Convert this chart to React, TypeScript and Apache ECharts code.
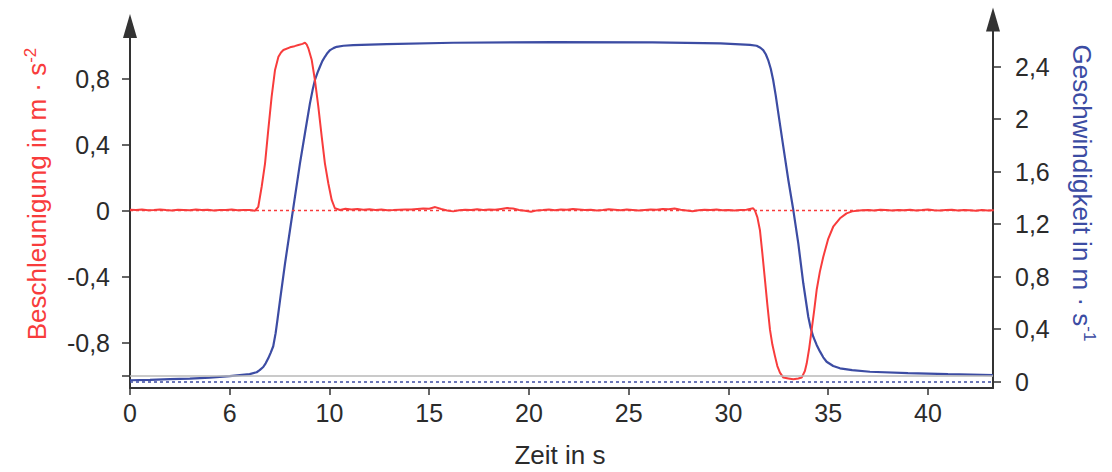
import React, { useEffect, useRef } from 'react';
import * as echarts from 'echarts';

// ---------- axis ranges & ticks ----------
const X_MIN = 0;
const X_MAX = 43.26;
const xTicks = [0, 5, 10, 15, 20, 25, 30, 35, 40];
const xTickLabels = ['0', '6', '10', '15', '20', '25', '30', '35', '40'];

const ACC_MIN = -1.073;
const ACC_MAX = 1.118;
const accTicks = [-1.0, -0.8, -0.4, 0, 0.4, 0.8];
const accLabels = [-0.8, -0.4, 0, 0.4, 0.8];

const VEL_MIN = -0.048;
const VEL_MAX = 2.76;
const velTicks = [0, 0.4, 0.8, 1.2, 1.6, 2, 2.4];

// ---------- acceleration (red) ----------
const SAMPLE_STEP = 0.3;
const accBase1Start = 0;
const accBase1 = [0.006, 0.004, 0.007, 0.003, 0.005, 0.008, 0.004, 0.002, 0.006, 0.005, 0.003,
  0.007, 0.004, 0.006, 0.002, 0.005, 0.004, 0.007, 0.003, 0.005, 0.004];
const accPulse1: [number, number][] = [
  [6.27, 0.0], [6.43, 0.024], [6.6, 0.145], [6.77, 0.287], [6.93, 0.488], [7.1, 0.69],
  [7.27, 0.852], [7.44, 0.932], [7.57, 0.958], [7.69, 0.973], [8.02, 0.989], [8.25, 0.996], [8.44, 1.003],
  [8.65, 1.01], [8.77, 1.017], [8.86, 1.005], [8.94, 0.983], [9.11, 0.912], [9.27, 0.791], [9.44, 0.63],
  [9.61, 0.448], [9.77, 0.287], [9.94, 0.166], [10.11, 0.065], [10.27, 0.015], [10.53, 0.004],
];
const accBase2Start = 10.8;
const accBase2 = [0.012, 0.008, 0.010, 0.006, 0.009, 0.005, 0.007, 0.003, 0.004, 0.006,
  0.008, 0.007, 0.011, 0.013, 0.012, 0.022, 0.010, 0.001, -0.004, 0.003,
  0.006, 0.004, 0.009, 0.005, 0.008, 0.006, 0.011, 0.016, 0.013, 0.004,
  0.000, -0.006, 0.002, 0.004, 0.007, 0.003, 0.008, 0.006, 0.010, 0.007,
  0.004, 0.006, 0.002, 0.005, 0.009, 0.006, 0.003, 0.007, 0.004, 0.001,
  0.005, 0.008, 0.006, 0.011, 0.009, 0.013, 0.006, 0.002, -0.003, 0.003,
  0.006, 0.004, 0.007, 0.003, 0.005, 0.002, 0.004, 0.006];
const accPulse2: [number, number][] = [
  [31.24, 0.015], [31.33, 0.0], [31.45, -0.04], [31.58, -0.12], [31.7, -0.26], [31.83, -0.42],
  [31.95, -0.57], [32.08, -0.72], [32.2, -0.81], [32.33, -0.88], [32.45, -0.94], [32.58, -0.98],
  [32.75, -1.01], [33.0, -1.015], [33.25, -1.02], [33.5, -1.015], [33.67, -1.01], [33.83, -0.97],
  [33.92, -0.925], [34.05, -0.83], [34.17, -0.72], [34.3, -0.6], [34.42, -0.48], [34.58, -0.37],
  [34.75, -0.28], [35.0, -0.17], [35.25, -0.097], [35.59, -0.046], [35.92, -0.016], [36.2, -0.004],
  [36.43, 0.0],
];
const accBase3Start = 36.7;
const accBase3 = [0.003, 0.005, 0.002, 0.006, 0.004, 0.001, 0.005, 0.003, 0.006, 0.002, 0.004,
  0.007, 0.003, 0.001, 0.004, 0.006, 0.002, 0.005, 0.003, 0.000, 0.004, 0.002, 0.003];

// ---------- velocity (blue) ----------
const velocity: [number, number][] = [
  [0, 0.011], [1, 0.014], [2, 0.019], [3, 0.024], [4, 0.031], [5, 0.042], [5.5, 0.05],
  [6.0, 0.058], [6.35, 0.072], [6.5, 0.088], [6.68, 0.112], [6.8, 0.14], [6.93, 0.178],
  [7.05, 0.22], [7.18, 0.27], [7.3, 0.37], [7.4, 0.48], [7.52, 0.62], [7.77, 0.9],
  [8.02, 1.156], [8.27, 1.41], [8.52, 1.664], [8.77, 1.893], [9.02, 2.121], [9.15, 2.22],
  [9.27, 2.299], [9.4, 2.355], [9.52, 2.4], [9.64, 2.443], [9.77, 2.476], [9.9, 2.505],
  [10.03, 2.527], [10.2, 2.542], [10.36, 2.552], [10.7, 2.56], [11.19, 2.565], [12.87, 2.572],
  [16.2, 2.583], [21.2, 2.588], [26.2, 2.586], [29.6, 2.578], [31.08, 2.566], [31.41, 2.56],
  [31.6, 2.545], [31.74, 2.527], [31.87, 2.495], [31.99, 2.451], [32.12, 2.385], [32.24, 2.299],
  [32.37, 2.18], [32.5, 2.045], [32.75, 1.79], [33.0, 1.537], [33.25, 1.308], [33.5, 1.054],
  [33.75, 0.75], [34.0, 0.495], [34.12, 0.41], [34.25, 0.343], [34.42, 0.28], [34.59, 0.229],
  [34.75, 0.186], [34.92, 0.152], [35.25, 0.12], [35.59, 0.102], [36.2, 0.088], [37.09, 0.076],
  [39, 0.066], [41, 0.058], [43.26, 0.05],
];

const withTimes = (start: number, vals: number[]): [number, number][] =>
  vals.map((v, i) => [Math.round((start + i * SAMPLE_STEP) * 100) / 100, v]);

const acceleration: [number, number][] = [
  ...withTimes(accBase1Start, accBase1),
  ...accPulse1,
  ...withTimes(accBase2Start, accBase2),
  ...accPulse2,
  ...withTimes(accBase3Start, accBase3),
];

const FONT = '"Liberation Sans", Arial, Helvetica, sans-serif';
const AXIS = '#333333';
const TXT = '#2b2b2b';
const RED = '#f83c3c';
const BLUE = '#3c4ca3';

const commaFmt = (v: number) =>
  Math.abs(v) < 1e-9 ? '0' : (Math.round(v * 10) / 10).toString().replace('.', ',');

export default function App() {
  const ref = useRef<HTMLDivElement>(null);

  useEffect(() => {
    if (!ref.current) return;
    const chart = echarts.init(ref.current, undefined, { renderer: 'svg' });
    const axisLineY = {
      show: true,
      onZero: false,
      symbol: ['none', 'triangle'],
      symbolSize: [14, 24],
      lineStyle: { color: AXIS, width: 2 },
    };
    const option: any = {
      animation: false,
      textStyle: { fontFamily: FONT },
      grid: [
        { left: 130, right: 119, top: 26, bottom: 84, containLabel: false, outerBoundsMode: 'none' },
        { left: 130, right: 119, top: 19.5, bottom: 84, containLabel: false, outerBoundsMode: 'none' },
      ],
      xAxis: [
        {
          type: 'value', gridIndex: 0, min: X_MIN, max: X_MAX,
          axisLine: { show: true, onZero: false, lineStyle: { color: AXIS, width: 2 } },
          axisTick: { show: true, length: 7, customValues: xTicks, lineStyle: { color: AXIS, width: 1.5 } },
          axisLabel: {
            customValues: xTicks,
            formatter: (v: number) => {
              const i = xTicks.findIndex((t) => Math.abs(t - v) < 1e-6);
              return i >= 0 ? xTickLabels[i] : '';
            },
            fontSize: 25, color: TXT, margin: 12, fontFamily: FONT,
          },
          splitLine: { show: false },
        },
        { type: 'value', gridIndex: 1, min: X_MIN, max: X_MAX, show: false, splitLine: { show: false } },
      ],
      yAxis: [
        {
          type: 'value', gridIndex: 0, position: 'left', min: ACC_MIN, max: ACC_MAX,
          axisLine: axisLineY,
          axisTick: { show: true, length: 8, customValues: accTicks, lineStyle: { color: AXIS, width: 1.5 } },
          axisLabel: { customValues: accLabels, formatter: commaFmt, fontSize: 25, color: TXT, margin: 20, fontFamily: FONT, padding: [5, 0, 0, 0] },
          splitLine: { show: false },
        },
        {
          type: 'value', gridIndex: 1, position: 'right', min: VEL_MIN, max: VEL_MAX,
          axisLine: axisLineY,
          axisTick: { show: true, length: 8, customValues: velTicks, lineStyle: { color: AXIS, width: 1.5 } },
          axisLabel: { customValues: velTicks, formatter: commaFmt, fontSize: 25, color: TXT, margin: 22, fontFamily: FONT },
          splitLine: { show: false },
        },
      ],
      series: [
        {
          type: 'line', name: 'Geschwindigkeit', xAxisIndex: 1, yAxisIndex: 1,
          data: velocity, showSymbol: false, smooth: false,
          lineStyle: { color: BLUE, width: 2.2 }, z: 3,
          markLine: {
            silent: true, symbol: ['none', 'none'], label: { show: false },
            data: [{ yAxis: 0, lineStyle: { type: [3, 3], color: BLUE, width: 1.6 } }],
          },
        },
        {
          type: 'line', name: 'Beschleunigung', xAxisIndex: 0, yAxisIndex: 0,
          data: acceleration, showSymbol: false, smooth: false,
          lineStyle: { color: RED, width: 2 }, z: 4,
          markLine: {
            silent: true, symbol: ['none', 'none'], label: { show: false },
            data: [
              { yAxis: 0, lineStyle: { type: [3, 3], color: RED, width: 1.3 } },
              { yAxis: -1.0, lineStyle: { type: 'solid', color: '#b9b9b9', width: 1.5 } },
            ],
          },
        },
      ],
      graphic: [
        {
          type: 'text', x: 37, y: 194, rotation: Math.PI / 2,
          style: {
            text: '{m|Beschleunigung in m · s}{s|-2}',
            align: 'center', verticalAlign: 'middle',
            rich: {
              m: { fill: RED, fontSize: 26, fontFamily: FONT, lineHeight: 31 },
              s: { fill: RED, fontSize: 17, fontFamily: FONT, lineHeight: 17, verticalAlign: 'top' },
            },
          },
        },
        {
          type: 'text', x: 1082, y: 193, rotation: -Math.PI / 2,
          style: {
            text: '{m|Geschwindigkeit in m · s}{s|-1}',
            align: 'center', verticalAlign: 'middle',
            rich: {
              m: { fill: BLUE, fontSize: 26, fontFamily: FONT, lineHeight: 31 },
              s: { fill: BLUE, fontSize: 17, fontFamily: FONT, lineHeight: 17, verticalAlign: 'top' },
            },
          },
        },
        {
          type: 'text', x: 560, y: 455,
          style: {
            text: 'Zeit in s', fill: TXT, fontSize: 26, fontFamily: FONT,
            align: 'center', verticalAlign: 'middle',
          },
        },
      ],
    };
    chart.setOption(option);
    return () => chart.dispose();
  }, []);

  return (
    <div
      ref={ref}
      style={{ position: 'absolute', left: 0, top: 0, width: 1112, height: 472, background: '#fff' }}
    />
  );
}
